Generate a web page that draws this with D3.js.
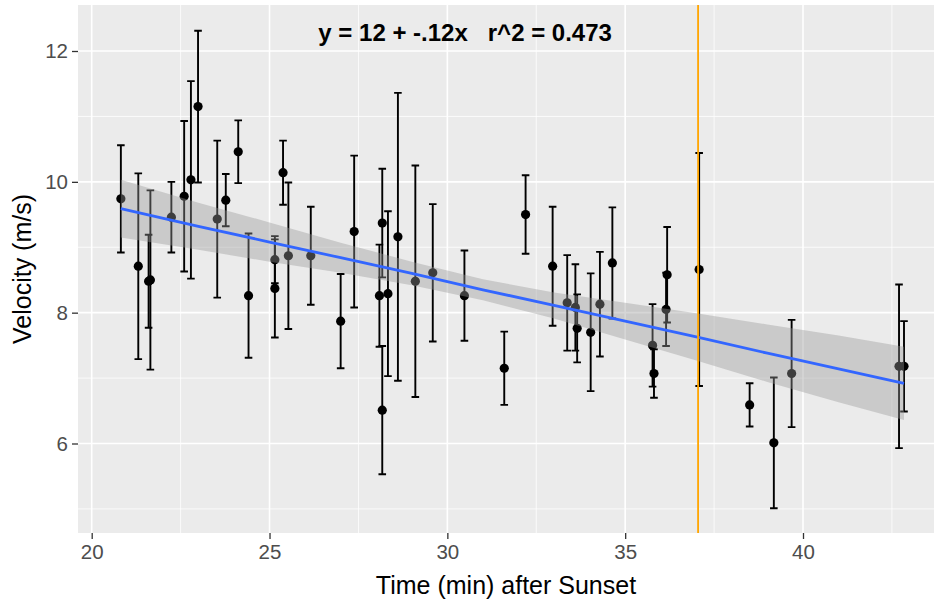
<!DOCTYPE html>
<html>
<head>
<meta charset="utf-8">
<script src="https://cdn.jsdelivr.net/npm/d3@7"></script>
<style>
  body { margin: 0; background: #fff; }
  svg { display: block; font-family: "Liberation Sans", Arial, sans-serif; }
</style>
</head>
<body>
<svg id="chart" width="934" height="600"></svg>
<script>
// --- Data ---
const timeMin = [20.82, 21.31, 21.60, 21.65, 22.24, 22.60, 22.79, 22.99, 23.53, 23.77,
                 24.12, 24.41, 25.15, 25.15, 25.38, 25.53, 26.16, 27.00, 27.38, 28.09,
                 28.17, 28.17, 28.33, 28.61, 29.10, 29.59, 30.48, 31.60, 32.20, 32.96,
                 33.37, 33.60, 33.65, 34.03, 34.29, 34.64, 35.77, 35.81, 36.15, 36.18,
                 37.08, 38.50, 39.18, 39.68, 42.70, 42.84];
const velocity = [9.74, 8.71, 8.48, 8.50, 9.46, 9.78, 10.03, 11.15, 9.43, 9.72,
                  10.46, 8.26, 8.81, 8.37, 10.14, 8.87, 8.87, 7.87, 9.24, 8.26,
                  9.37, 6.51, 8.29, 9.16, 8.48, 8.61, 8.26, 7.15, 9.50, 8.71,
                  8.15, 8.08, 7.76, 7.70, 8.13, 8.76, 7.50, 7.07, 8.05, 8.58,
                  8.66, 6.59, 6.01, 7.07, 7.18, 7.18];
const velErr = [0.82, 1.42, 0.71, 1.37, 0.54, 1.15, 1.51, 1.16, 1.20, 0.40,
                0.48, 0.95, 0.36, 0.75, 0.49, 1.12, 0.75, 0.72, 1.16, 0.78,
                0.83, 0.98, 1.26, 2.20, 1.77, 1.05, 0.69, 0.56, 0.60, 0.91,
                0.73, 0.66, 0.52, 0.90, 0.80, 0.85, 0.63, 0.37, 0.56, 0.73,
                1.78, 0.33, 1.00, 0.82, 1.25, 0.69];

// lm fit line and its confidence band
const fitX  = [20.82, 23, 25, 27, 29, 31, 33, 35, 37, 39, 41, 42.84];
const fitY  = [9.59, 9.32, 9.08, 8.84, 8.60, 8.35, 8.11, 7.87, 7.63, 7.38, 7.14, 6.92];
const fitHi = [10.03, 9.68, 9.38, 9.07, 8.78, 8.51, 8.31, 8.15, 7.99, 7.82, 7.65, 7.48];
const fitLo = [9.15, 8.96, 8.78, 8.61, 8.42, 8.19, 7.91, 7.59, 7.27, 6.94, 6.63, 6.36];

const sunsetLine = 37.05;
const xTicks = [20, 25, 30, 35, 40];
const xMinor = [22.5, 27.5, 32.5, 37.5, 42.5];
const yTicks = [6, 8, 10, 12];
const yMinor = [5, 7, 9, 11];
const fitLabel = "y = 12 + -.12x   r^2 = 0.473";
const labelPos = [30.5, 12.28];

// --- Setup ---
const svg = d3.select("#chart");
const panel = { left: 78, right: 934, top: 5, bottom: 533 };

const x = d3.scaleLinear().domain([20, 40]).range([91.7, 803]);
const y = d3.scaleLinear().domain([6, 12]).range([443.5, 51]);

const points = timeMin.map((t, i) => ({ x: t, y: velocity[i], e: velErr[i] }));
const fit = fitX.map((t, i) => ({ x: t, y: fitY[i], lo: fitLo[i], hi: fitHi[i] }));

// panel background
svg.append("rect")
    .attr("x", panel.left).attr("y", panel.top)
    .attr("width", panel.right - panel.left)
    .attr("height", panel.bottom - panel.top)
    .attr("fill", "#EBEBEB");

// grid
const grid = svg.append("g").attr("stroke", "#fff");
grid.selectAll(".xminor").data(xMinor).enter().append("line")
    .attr("x1", d => x(d)).attr("x2", d => x(d))
    .attr("y1", panel.top).attr("y2", panel.bottom)
    .attr("stroke-width", 0.8);
grid.selectAll(".yminor").data(yMinor).enter().append("line")
    .attr("x1", panel.left).attr("x2", panel.right)
    .attr("y1", d => y(d)).attr("y2", d => y(d))
    .attr("stroke-width", 0.8);
grid.selectAll(".xmajor").data(xTicks).enter().append("line")
    .attr("x1", d => x(d)).attr("x2", d => x(d))
    .attr("y1", panel.top).attr("y2", panel.bottom)
    .attr("stroke-width", 1.6);
grid.selectAll(".ymajor").data(yTicks).enter().append("line")
    .attr("x1", panel.left).attr("x2", panel.right)
    .attr("y1", d => y(d)).attr("y2", d => y(d))
    .attr("stroke-width", 1.6);

// --- Error bars and points ---
const bars = svg.append("g").attr("stroke", "#000").attr("stroke-width", 1.9);
bars.selectAll(".bar").data(points).enter().append("path")
    .attr("fill", "none")
    .attr("d", d => {
        const cx = x(d.x), t = y(d.y + d.e), b = y(d.y - d.e), w = 3.8;
        return `M${cx - w},${t}H${cx + w}M${cx},${t}V${b}M${cx - w},${b}H${cx + w}`;
    });

svg.append("g").selectAll("circle").data(points).enter().append("circle")
    .attr("cx", d => x(d.x)).attr("cy", d => y(d.y))
    .attr("r", 4.6).attr("fill", "#000");

// --- Smooth (drawn over the points, like geom_smooth) ---
svg.append("path").datum(fit)
    .attr("fill", "#999999").attr("fill-opacity", 0.4)
    .attr("d", d3.area().x(d => x(d.x)).y0(d => y(d.lo)).y1(d => y(d.hi)));

svg.append("path").datum(fit)
    .attr("fill", "none").attr("stroke", "#3366FF").attr("stroke-width", 2.8)
    .attr("d", d3.line().x(d => x(d.x)).y(d => y(d.y)));

// sunset reference line
svg.append("line")
    .attr("x1", x(sunsetLine)).attr("x2", x(sunsetLine))
    .attr("y1", panel.top).attr("y2", panel.bottom)
    .attr("stroke", "#FFA500").attr("stroke-width", 1.8);

// fit annotation
svg.append("text")
    .attr("x", x(labelPos[0])).attr("y", y(labelPos[1]))
    .attr("dy", "0.35em")
    .attr("text-anchor", "middle")
    .attr("font-size", 24).attr("font-weight", "bold")
    .style("white-space", "pre")
    .attr("fill", "#000")
    .text(fitLabel);

// --- Axes ---
const xAxis = svg.append("g")
    .attr("transform", `translate(0,${panel.bottom})`)
    .call(d3.axisBottom(x).tickValues(xTicks).tickFormat(d3.format("d")).tickSize(6).tickPadding(5));
const yAxis = svg.append("g")
    .attr("transform", `translate(${panel.left},0)`)
    .call(d3.axisLeft(y).tickValues(yTicks).tickFormat(d3.format("d")).tickSize(6).tickPadding(4));

[xAxis, yAxis].forEach(a => {
    a.select(".domain").remove();
    a.selectAll(".tick line").attr("stroke", "#333").attr("stroke-width", 1.3);
    a.selectAll(".tick text")
        .attr("fill", "#4D4D4D")
        .attr("font-size", 20.5)
        .attr("font-family", "Liberation Sans, Arial, sans-serif");
});

svg.append("text")
    .attr("x", (panel.left + panel.right) / 2).attr("y", 594)
    .attr("text-anchor", "middle")
    .attr("font-size", 25).attr("fill", "#000")
    .text("Time (min) after Sunset");

svg.append("text")
    .attr("transform", `translate(31,${(panel.top + panel.bottom) / 2}) rotate(-90)`)
    .attr("text-anchor", "middle")
    .attr("font-size", 25).attr("fill", "#000")
    .text("Velocity (m/s)");
</script>
</body>
</html>
